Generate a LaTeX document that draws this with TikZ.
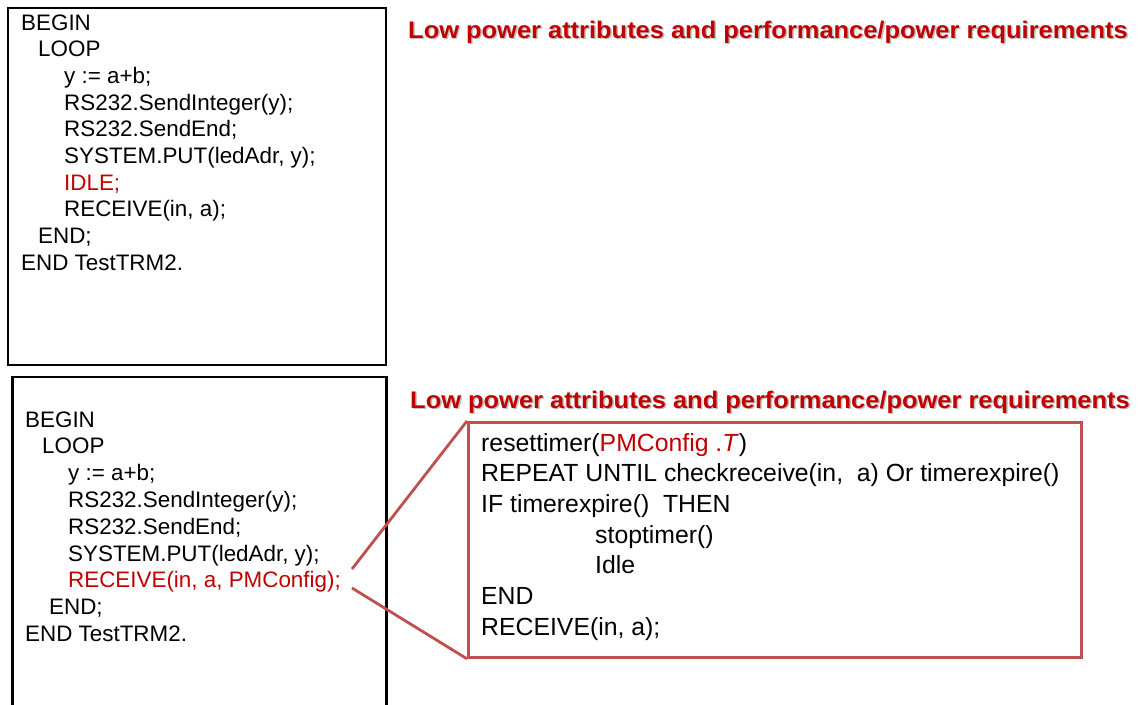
\documentclass[tikz,border=0pt]{standalone}
\usepackage{fontspec}
\setmainfont{Liberation Sans}
\newfontfamily\titlefont[FakeStretch=1.06]{Liberation Sans}
\definecolor{codered}{HTML}{C00000}
\definecolor{boxred}{HTML}{C0504D}
\begin{document}
\begin{tikzpicture}[x=1pt,y=-1pt,
  codeline/.style={anchor=base west,inner sep=0pt,font=\fontsize{22.4}{26}\selectfont},
  zoomline/.style={anchor=base west,inner sep=0pt,font=\fontsize{24.8}{30}\selectfont},
  heading/.style={anchor=base west,inner sep=0pt,text=codered,font=\titlefont\bfseries\fontsize{24}{28}\selectfont},
  headshadow/.style={heading,text=black!55,opacity=0.45},
  listbox/.style={draw=black,line width=2.7pt},
  zoombox/.style={draw=boxred,line width=2.8pt},
  zoomlink/.style={draw=boxred,line width=2.8pt}]
\useasboundingbox (0,0) rectangle (1139,704);
\clip (0,0) rectangle (1139,704);
\fill[white] (0,0) rectangle (1139,704);

% upper listing
\draw[listbox] (8,8) rectangle (386,365);
\node[codeline] (a1) at (21,30) {BEGIN};
\node[codeline] (a2) at (38,56.7) {LOOP};
\node[codeline] (a3) at (64,83.4) {y := a+b;};
\node[codeline] (a4) at (64,110.1) {RS232.SendInteger(y);};
\node[codeline] (a5) at (64,136.8) {RS232.SendEnd;};
\node[codeline] (a6) at (64,163.5) {SYSTEM.PUT(ledAdr, y);};
\node[codeline,text=codered] (a7) at (64,190.2) {IDLE;};
\node[codeline] (a8) at (64,216.9) {RECEIVE(in, a);};
\node[codeline] (a9) at (38,243.6) {END;};
\node[codeline] (a10) at (21,270.3) {END TestTRM2.};

% headings
\node[headshadow] at (409.5,39.5) {Low power attributes and performance/power requirements};
\node[heading] (h1) at (408,38) {Low power attributes and performance/power requirements};
\node[headshadow] at (411.5,409.5) {Low power attributes and performance/power requirements};
\node[heading] (h2) at (410,408) {Low power attributes and performance/power requirements};

% lower listing
\draw[listbox] (12.5,377) rectangle (386.5,720);
\node[codeline] (b1) at (25,427) {BEGIN};
\node[codeline] (b2) at (42,453.8) {LOOP};
\node[codeline] (b3) at (68,480.6) {y := a+b;};
\node[codeline] (b4) at (68,507.4) {RS232.SendInteger(y);};
\node[codeline] (b5) at (68,534.2) {RS232.SendEnd;};
\node[codeline] (b6) at (68,561) {SYSTEM.PUT(ledAdr, y);};
\node[codeline,text=codered] (b7) at (68,587.8) {RECEIVE(in, a, PMConfig);};
\node[codeline] (b8) at (49,614.6) {END;};
\node[codeline] (b9) at (25,641.4) {END TestTRM2.};

% expanded RECEIVE
\node[zoombox,minimum width=613pt,minimum height=235pt,inner sep=0pt,anchor=north west] (pm) at (467,421) {};
\node[zoomline] (c1) at (481,451) {resettimer(\textcolor{codered}{PMConfig .\textit{T}})};
\node[zoomline] (c2) at (481,481.7) {REPEAT UNTIL checkreceive(in,~ a) Or timerexpire()};
\node[zoomline] (c3) at (481,512.4) {IF timerexpire()~ THEN};
\node[zoomline] (c4) at (595,543.1) {stoptimer()};
\node[zoomline] (c5) at (595,573.8) {Idle};
\node[zoomline] (c6) at (481,604.5) {END};
\node[zoomline] (c7) at (481,635.2) {RECEIVE(in, a);};

% callout from the RECEIVE line to its expansion
\coordinate (callA) at (352,569);
\coordinate (callB) at (352,588);
\draw[zoomlink] (callA) -- (pm.north west);
\draw[zoomlink] (callB) -- (pm.south west);
\end{tikzpicture}
\end{document}
